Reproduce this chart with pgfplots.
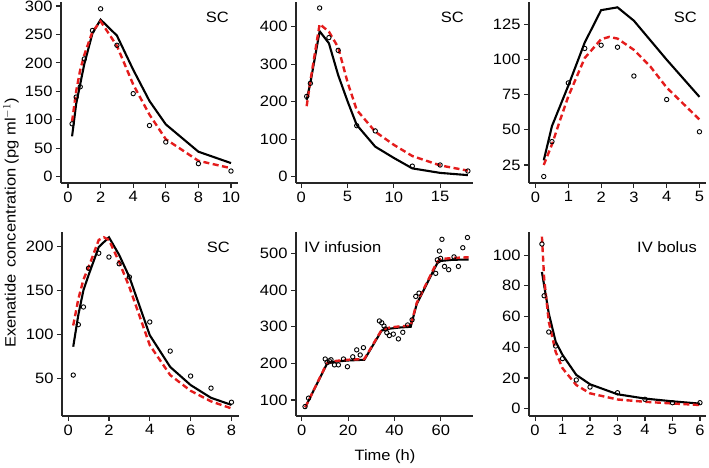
\documentclass[border=0pt]{standalone}
\usepackage{fontspec}
\setmainfont{Liberation Sans}[FakeStretch=1.1]
\usepackage{pgfplots}
\pgfplotsset{compat=1.18}

\definecolor{fitred}{RGB}{228,28,28}

\tikzset{lab/.style={font=\fontsize{15}{17}\selectfont, inner sep=0pt}}
\pgfplotsset{
  panel/.style={
    scale only axis,
    width=177pt,
    anchor=south west,
    axis x line*=bottom,
    axis y line*=left,
    axis line style={-, line width=1.1pt, black!85},
    tick align=outside,
    major tick length=5pt,
    tick style={line width=1.1pt, black!85},
    tick label style={font=\fontsize{15}{17}\selectfont},
    /pgf/number format/assume math mode=true,
    /pgf/number format/1000 sep={},
    clip=false,
  },
  obs/.style={only marks, mark=o, mark size=2.2pt, mark options={line width=0.9pt, black}},
  fitA/.style={black, line width=2.1pt, no marks},
  fitB/.style={fitred, line width=2.4pt, dash pattern=on 6pt off 3.5pt, no marks},
}

\begin{document}
\begin{tikzpicture}[x=1pt,y=1pt]
\path[use as bounding box] (0,0) rectangle (709,467);

% ---- top left: SC
\begin{axis}[panel, at={(61pt,284pt)}, height=181pt,
  xmin=-0.43, xmax=10.43, ymin=-11, ymax=307,
  xtick={0,2,4,6,8,10}, ytick={0,50,100,150,200,250,300}]
\addplot[fitA] coordinates {(0.25,71)(0.5,128)(0.75,163)(1,198)(1.5,252)(2,276)(3,248)(4,188)(5,133)(6,92)(8,44)(10,24)};
\addplot[fitB] coordinates {(0.25,97)(0.5,150)(0.75,188)(1,214)(1.5,255)(2,273)(3,230)(4,162)(5,109)(6,66)(8,28)(10,15)};
\addplot[obs] coordinates {(0.25,93)(0.5,140)(0.75,158)(1,207)(1.5,257)(2,295)(3,231)(4,146)(5,90)(6,61)(8,23)(10,10)};
\node[lab, anchor=north east] at (rel axis cs:1,1) [xshift=-9pt, yshift=-10pt] {SC};
\end{axis}

% ---- top middle: SC
\begin{axis}[panel, at={(296pt,284pt)}, height=181pt,
  xmin=-0.55, xmax=18.55, ymin=-17, ymax=466,
  xtick={0,5,10,15}, ytick={0,100,200,300,400}]
\addplot[fitA] coordinates {(0.6,205)(1,250)(2,388)(3,356)(4,271)(5,202)(6,138)(8,80)(10,50)(12,22)(15,10)(18,4)};
\addplot[fitB] coordinates {(0.6,188)(1,255)(2,407)(3,387)(4,345)(5,253)(6,178)(8,120)(10,85)(12,55)(15,30)(18,16)};
\addplot[obs] coordinates {(0.6,214)(1,249)(2,450)(3,371)(4,337)(6,136)(8,122)(12,28)(15,31)(18,15)};
\node[lab, anchor=north east] at (rel axis cs:1,1) [xshift=-9pt, yshift=-10pt] {SC};
\end{axis}

% ---- top right: SC
\begin{axis}[panel, at={(529pt,284pt)}, height=181pt,
  xmin=-0.2, xmax=5.2, ymin=12.2, ymax=140.8,
  xtick={0,1,2,3,4,5}, ytick={25,50,75,100,125}]
\addplot[fitA] coordinates {(0.25,28.3)(0.5,52.6)(1,81.4)(1.5,112)(2,135)(2.5,137)(3,127.5)(4,99.8)(5,73.4)};
\addplot[fitB] coordinates {(0.25,25)(0.5,39.6)(0.75,57)(1,73.8)(1.5,101)(2,114.4)(2.25,116)(2.5,114.8)(3,106.8)(3.5,95)(4,80)(5,57.3)};
\addplot[obs] coordinates {(0.25,16.8)(0.5,41.6)(1,83.3)(1.5,107.8)(2,110.1)(2.5,108.7)(3,88.2)(4,71.5)(5,48.6)};
\node[lab, anchor=north east] at (rel axis cs:1,1) [xshift=-9pt, yshift=-10pt] {SC};
\end{axis}

% ---- bottom left: SC
\begin{axis}[panel, at={(62pt,51pt)}, height=184pt,
  xmin=-0.3, xmax=8.37, ymin=7.4, ymax=216,
  xtick={0,2,4,6,8}, ytick={50,100,150,200}]
\addplot[fitA] coordinates {(0.25,86)(0.5,122)(0.75,150)(1,167)(1.5,199)(2,210)(2.5,190)(3,165)(4,99)(5,63)(6,42.5)(7,28)(8,20)};
\addplot[fitB] coordinates {(0.25,110)(0.5,140)(0.75,162)(1,176)(1.5,207)(1.75,210)(2,207)(2.5,182)(3,153.6)(4,87.7)(5,53.8)(6,36)(7,24)(8,16)};
\addplot[obs] coordinates {(0.25,53.8)(0.5,111)(0.75,131)(1,175)(1.5,192)(2,187.6)(2.5,180)(3,165)(4,114)(5,81)(6,52.7)(7,39)(8,23)};
\node[lab, anchor=north east] at (rel axis cs:1,1) [xshift=-9pt, yshift=-10pt] {SC};
\end{axis}

% ---- bottom middle: IV infusion
\begin{axis}[panel, at={(296pt,51pt)}, height=184pt,
  xmin=-2.5, xmax=73.9, ymin=56.3, ymax=559,
  xtick={0,20,40,60}, ytick={100,200,300,400,500}]
\addplot[fitA] coordinates {(1.5,80)(10.8,198)(12,201)(15,205)(20,208)(27,210)(34.5,290)(38,295)(42,298)(47,300)(49.6,362)(57.2,458)(58.5,474)(60,480)(65,483)(72,484)};
\addplot[fitB] coordinates {(1.5,80)(10.8,200)(12,203)(15,207)(20,210)(27,212)(34.5,292)(38,298)(42,301)(47,303)(49.6,365)(57.2,462)(58.5,478)(60,485)(65,488)(72,490)};
\addplot[obs] coordinates {(1.4,82)(2.9,105)(10.1,212)(10.9,203)(11.9,207)(12.6,210)(14.1,196)(15.8,196)(18,212)(19.7,191)(22,218)(23.7,237)(25.2,223)(26.6,243)
  (33.5,316)(34.5,311)(35.5,302)(36.1,294)(36.7,284)(37.8,276)(39.5,280)(41.7,267)(43.6,285)(45.7,305)(47.6,319)(49.2,383)(50.6,392)
  (57.8,446)(58.5,483)(59.4,507)(59.9,487)(60.5,539)(61.6,465)(63.4,456)(65.7,491)(67.6,465)(69.5,516)(71.5,544)};
\node[lab, anchor=north west] at (rel axis cs:0,1) [xshift=8pt, yshift=-9pt] {IV infusion};
\end{axis}

% ---- bottom right: IV bolus
\begin{axis}[panel, at={(529pt,51pt)}, height=184pt,
  xmin=-0.22, xmax=6.22, ymin=-4.75, ymax=115,
  xtick={0,1,2,3,4,5,6}, ytick={0,20,40,60,80,100}]
\addplot[fitA] coordinates {(0.25,89)(0.5,62)(0.75,43.6)(1,35)(1.5,22)(2,15.9)(3,9.4)(4,6.6)(5,4.8)(6,3.3)};
\addplot[fitB] coordinates {(0.25,112)(0.33,85)(0.5,56.6)(0.75,37)(1,26.3)(1.5,15.4)(2,10)(3,6)(4,4.5)(5,3.4)(6,2.4)};
\addplot[obs] coordinates {(0.25,107.2)(0.33,73.5)(0.5,49.9)(0.75,40.8)(1,32.6)(1.5,18.7)(2,14.1)(3,10.4)(4,6.1)(5,3.9)(6,3.9)};
\node[lab, anchor=north east] at (rel axis cs:1,1) [xshift=-9pt, yshift=-9pt] {IV bolus};
\end{axis}

\node[lab, rotate=90] at (11,244) {Exenatide\hspace{0.45em}concentration (pg ml$^{-1}$)};
\node[lab] at (385,10) {Time (h)};
\end{tikzpicture}
\end{document}
